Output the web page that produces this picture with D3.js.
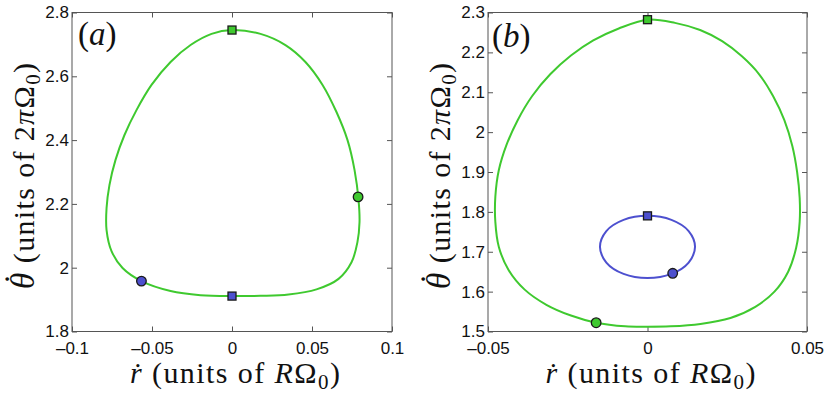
<!DOCTYPE html>
<html>
<head>
<meta charset="utf-8">
<script src="https://cdn.jsdelivr.net/npm/d3@7"></script>
<style>
  body { margin: 0; background: #fff; }
  svg { display: block; }
  .tick text { font-family: "Liberation Sans", Arial, sans-serif; font-size: 17px; fill: #111; }
  .lab { font-family: "Liberation Serif", "Times New Roman", serif; fill: #111; }
</style>
</head>
<body>
<svg></svg>
<script>
var width = 831;
var height = 397;

// panel (a): orbit in the (rdot, thetadot) plane
var aOrbit = [
  [0, 2.745], [0.0178, 2.733], [0.0334, 2.698], [0.0459, 2.645], [0.0566, 2.573],
  [0.0653, 2.488], [0.0722, 2.400], [0.0766, 2.306], [0.0791, 2.212], [0.0797, 2.143],
  [0.0784, 2.080], [0.0747, 2.017], [0.0666, 1.965], [0.0528, 1.932], [0.0353, 1.916],
  [0.0178, 1.912], [0, 1.911], [-0.0197, 1.914], [-0.0384, 1.927], [-0.0566, 1.958],
  [-0.0684, 1.999], [-0.0753, 2.052], [-0.0784, 2.118], [-0.0784, 2.187], [-0.0766, 2.259],
  [-0.0728, 2.338], [-0.0672, 2.416], [-0.0597, 2.494], [-0.0503, 2.573], [-0.0384, 2.645],
  [-0.0259, 2.698], [-0.0128, 2.733]
];
var aSquares = [[0, 2.745, "green"], [0, 1.911, "blue"]];
var aCircles = [[0.0788, 2.222, "green"], [-0.0566, 1.958, "blue"]];

// panel (b): outer (green) and inner (blue) orbits
var bOuter = [
  [0, 2.282], [0.0086, 2.274], [0.0165, 2.256], [0.0234, 2.228], [0.0296, 2.190],
  [0.0350, 2.145], [0.0394, 2.090], [0.0429, 2.030], [0.0454, 1.965], [0.0469, 1.900],
  [0.0477, 1.835], [0.0477, 1.775], [0.0466, 1.710], [0.0441, 1.650], [0.0398, 1.600],
  [0.0338, 1.562], [0.0260, 1.534], [0.0166, 1.519], [0.0072, 1.513], [0, 1.512],
  [-0.0070, 1.513], [-0.0161, 1.522], [-0.0240, 1.540], [-0.0317, 1.567], [-0.0385, 1.605],
  [-0.0436, 1.655], [-0.0466, 1.712], [-0.0477, 1.775], [-0.0477, 1.838], [-0.0466, 1.905],
  [-0.0442, 1.968], [-0.0407, 2.030], [-0.0362, 2.090], [-0.0305, 2.145], [-0.0240, 2.192],
  [-0.0170, 2.230], [-0.0090, 2.260]
];
var bInner = [
  [0, 1.790], [0.0075, 1.780], [0.0129, 1.752], [0.0149, 1.7125], [0.0129, 1.673],
  [0.0075, 1.6445], [0, 1.634], [-0.0075, 1.6445], [-0.0129, 1.673], [-0.0149, 1.7125],
  [-0.0129, 1.752], [-0.0075, 1.780]
];
var bSquares = [[0, 2.282, "green"], [0, 1.790, "blue"]];
var bCircles = [[-0.0161, 1.522, "green"], [0.0079, 1.646, "blue"]];

var aXTicks = [-0.1, -0.05, 0, 0.05, 0.1];
var aYTicks = [1.8, 2, 2.2, 2.4, 2.6, 2.8];
var bXTicks = [-0.05, 0, 0.05];
var bYTicks = [1.5, 1.6, 1.7, 1.8, 1.9, 2, 2.1, 2.2, 2.3];

var colors = { green: "#3fc92f", blue: "#4d50cf" };

var svg = d3.select("svg").attr("width", width).attr("height", height);

function fmt(v) {
  var s = String(+v.toFixed(3));
  return s.replace("-", "\u2013");
}

function drawPanel(p) {
  var x = d3.scaleLinear().domain(p.xDomain).range([p.left, p.right]);
  var y = d3.scaleLinear().domain(p.yDomain).range([p.bottom, p.top]);
  var g = svg.append("g");

  // box
  g.append("rect")
    .attr("x", p.left).attr("y", p.top)
    .attr("width", p.right - p.left).attr("height", p.bottom - p.top)
    .attr("fill", "none").attr("stroke", "#555").attr("stroke-width", 1);

  // ticks point inward on all four sides
  var xb = g.append("g").attr("transform", "translate(0," + p.bottom + ")")
    .call(d3.axisBottom(x).tickValues(p.xTicks).tickSizeInner(-5).tickSizeOuter(0).tickPadding(10).tickFormat(fmt));
  var xt = g.append("g").attr("transform", "translate(0," + p.top + ")")
    .call(d3.axisTop(x).tickValues(p.xTicks).tickSizeInner(-5).tickSizeOuter(0).tickFormat(""));
  var yl = g.append("g").attr("transform", "translate(" + p.left + ",0)")
    .call(d3.axisLeft(y).tickValues(p.yTicks).tickSizeInner(-5).tickSizeOuter(0).tickPadding(3).tickFormat(fmt));
  var yr = g.append("g").attr("transform", "translate(" + p.right + ",0)")
    .call(d3.axisRight(y).tickValues(p.yTicks).tickSizeInner(-5).tickSizeOuter(0).tickFormat(""));
  [xb, xt, yl, yr].forEach(function (a) {
    a.select(".domain").remove();
    a.selectAll(".tick line").attr("stroke", "#555");
  });
  xb.selectAll(".tick text").attr("dy", "0.71em");

  var line = d3.line().x(d => x(d[0])).y(d => y(d[1])).curve(d3.curveCatmullRomClosed.alpha(0.5));
  p.curves.forEach(function (c) {
    g.append("path").attr("d", line(c.data))
      .attr("fill", "none").attr("stroke", colors[c.color]).attr("stroke-width", 2);
  });

  g.selectAll(".sq").data(p.squares).enter().append("rect")
    .attr("x", d => x(d[0]) - 4).attr("y", d => y(d[1]) - 4)
    .attr("width", 8).attr("height", 8)
    .attr("fill", d => colors[d[2]]).attr("stroke", "#1a1a1a").attr("stroke-width", 1.3);
  g.selectAll(".ci").data(p.circles).enter().append("circle")
    .attr("cx", d => x(d[0])).attr("cy", d => y(d[1])).attr("r", 4.8)
    .attr("fill", d => colors[d[2]]).attr("stroke", "#1a1a1a").attr("stroke-width", 1.3);

  // panel letter
  var pl = g.append("text").attr("class", "lab").attr("x", p.letterX).attr("y", p.letterY)
    .attr("font-size", 33);
  pl.append("tspan").text("(");
  pl.append("tspan").attr("font-style", "italic").text(p.letter);
  pl.append("tspan").text(")");

  // x label
  var xlab = g.append("text").attr("class", "lab").attr("text-anchor", "middle")
    .attr("x", (p.left + p.right) / 2 + 3).attr("y", 383).attr("font-size", 30)
    .attr("textLength", 210).attr("lengthAdjust", "spacing");
  xlab.append("tspan").attr("font-style", "italic").text("r\u0307");
  xlab.append("tspan").text(" (units of ");
  xlab.append("tspan").attr("font-style", "italic").text("R");
  xlab.append("tspan").text("\u03A9");
  xlab.append("tspan").attr("font-size", 21).attr("dy", 6).text("0");
  xlab.append("tspan").attr("dy", -6).text(")");

  // y label
  var ylab = g.append("text").attr("class", "lab").attr("text-anchor", "middle")
    .attr("transform", "translate(" + (p.left - 38) + "," + 176 + ") rotate(-90)")
    .attr("font-size", 30).attr("textLength", 226).attr("lengthAdjust", "spacing");
  ylab.append("tspan").attr("font-style", "italic").attr("font-size", 33).text("\u03B8");
  ylab.append("tspan").attr("font-size", 33).attr("dx", -13).attr("dy", -6).text("\u02D9");
  ylab.append("tspan").attr("dy", 6).text(" (units of 2");
  ylab.append("tspan").attr("font-style", "italic").text("\u03C0");
  ylab.append("tspan").text("\u03A9");
  ylab.append("tspan").attr("font-size", 21).attr("dy", 6).text("0");
  ylab.append("tspan").attr("dy", -6).text(")");
}

drawPanel({
  left: 72, right: 392, top: 12.5, bottom: 331.5,
  xDomain: [-0.1, 0.1], yDomain: [1.8, 2.8],
  xTicks: aXTicks, yTicks: aYTicks, letter: "a", letterX: 78, letterY: 45,
  curves: [{ data: aOrbit, color: "green" }],
  squares: aSquares, circles: aCircles
});

drawPanel({
  left: 488, right: 807, top: 12.5, bottom: 331.5,
  xDomain: [-0.05, 0.05], yDomain: [1.5, 2.3],
  xTicks: bXTicks, yTicks: bYTicks, letter: "b", letterX: 492, letterY: 47,
  curves: [{ data: bOuter, color: "green" }, { data: bInner, color: "blue" }],
  squares: bSquares, circles: bCircles
});
</script>
</body>
</html>
